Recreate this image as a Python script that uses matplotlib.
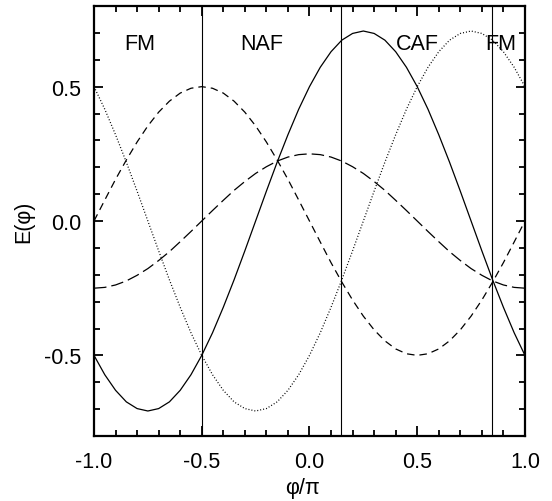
import matplotlib
matplotlib.use("Agg")
from matplotlib import pyplot as plt
from matplotlib.ticker import MultipleLocator

plt.rcParams['font.family'] = ['Liberation Sans', 'DejaVu Sans']

# phi/pi sampled every 0.05
phi = [-1.00, -0.95, -0.90, -0.85, -0.80, -0.75, -0.70, -0.65, -0.60, -0.55,
       -0.50, -0.45, -0.40, -0.35, -0.30, -0.25, -0.20, -0.15, -0.10, -0.05,
       0.00, 0.05, 0.10, 0.15, 0.20, 0.25, 0.30, 0.35, 0.40, 0.45,
       0.50, 0.55, 0.60, 0.65, 0.70, 0.75, 0.80, 0.85, 0.90, 0.95, 1.00]

e_solid = [-0.500, -0.572, -0.630, -0.673, -0.698, -0.707, -0.698, -0.673, -0.630, -0.572,
           -0.500, -0.416, -0.321, -0.219, -0.111, 0.000, 0.111, 0.219, 0.321, 0.416,
           0.500, 0.572, 0.630, 0.673, 0.698, 0.707, 0.698, 0.673, 0.630, 0.572,
           0.500, 0.416, 0.321, 0.219, 0.111, 0.000, -0.111, -0.219, -0.321, -0.416, -0.500]

e_dotted = [0.500, 0.416, 0.321, 0.219, 0.111, 0.000, -0.111, -0.219, -0.321, -0.416,
            -0.500, -0.572, -0.630, -0.673, -0.698, -0.707, -0.698, -0.673, -0.630, -0.572,
            -0.500, -0.416, -0.321, -0.219, -0.111, 0.000, 0.111, 0.219, 0.321, 0.416,
            0.500, 0.572, 0.630, 0.673, 0.698, 0.707, 0.698, 0.673, 0.630, 0.572, 0.500]

e_short = [0.000, 0.078, 0.155, 0.227, 0.294, 0.354, 0.405, 0.446, 0.476, 0.494,
           0.500, 0.494, 0.476, 0.446, 0.405, 0.354, 0.294, 0.227, 0.155, 0.078,
           0.000, -0.078, -0.155, -0.227, -0.294, -0.354, -0.405, -0.446, -0.476, -0.494,
           -0.500, -0.494, -0.476, -0.446, -0.405, -0.354, -0.294, -0.227, -0.155, -0.078, 0.000]

e_long = [-0.250, -0.247, -0.238, -0.223, -0.202, -0.177, -0.147, -0.114, -0.077, -0.039,
          0.000, 0.039, 0.077, 0.114, 0.147, 0.177, 0.202, 0.223, 0.238, 0.247,
          0.250, 0.247, 0.238, 0.223, 0.202, 0.177, 0.147, 0.114, 0.077, 0.039,
          0.000, -0.039, -0.077, -0.114, -0.147, -0.177, -0.202, -0.223, -0.238, -0.247, -0.250]

boundaries = [-0.5, 0.145, 0.845]
phase_names = ["FM", "NAF", "CAF", "FM"]
phase_x = [-0.787, -0.22, 0.503, 0.887]

fig = plt.figure(figsize=(5.52, 5.02), dpi=100)
ax = fig.add_axes([0.1703, 0.1295, 0.7807, 0.8565])

ax.plot(phi, e_solid, color='k', lw=0.9)
ax.plot(phi, e_dotted, color='k', lw=0.9, linestyle=(0, (0.8, 1.6)))
ax.plot(phi, e_short, color='k', lw=0.9, linestyle=(0, (6, 4)))
ax.plot(phi, e_long, color='k', lw=0.9, linestyle=(0, (10, 4)))

for b in boundaries:
    ax.axvline(b, color='k', lw=0.8)

for name, x in zip(phase_names, phase_x):
    ax.text(x, 0.66, name, ha='center', va='center', fontsize=15.5)

ax.set_xlim(-1.0, 1.0)
ax.set_ylim(-0.8, 0.8)
ax.xaxis.set_minor_locator(MultipleLocator(0.1))
ax.yaxis.set_minor_locator(MultipleLocator(0.1))
ax.set_xticks([-1.0, -0.5, 0.0, 0.5, 1.0])
ax.set_xticklabels(["-1.0", "-0.5", "0.0", "0.5", "1.0"])
ax.set_yticks([-0.5, 0.0, 0.5])
ax.set_yticklabels(["-0.5", "0.0", "0.5"])

ax.tick_params(which='both', direction='in', top=True, right=True, width=1.3, labelsize=15.5)
ax.tick_params(axis='x', which='major', length=7, pad=11)
ax.tick_params(axis='x', which='minor', length=4.5)
ax.tick_params(axis='y', which='major', length=6.5, pad=9)
ax.tick_params(axis='y', which='minor', length=4.5)
for sp in ax.spines.values():
    sp.set_linewidth(1.6)

ax.set_xlabel("φ/π", fontsize=15.5, labelpad=3.5)
ax.xaxis.label.set_x(0.483)
ax.set_ylabel("E(φ)", fontsize=15.5, labelpad=7)

fig.savefig("out.png", dpi=100)
